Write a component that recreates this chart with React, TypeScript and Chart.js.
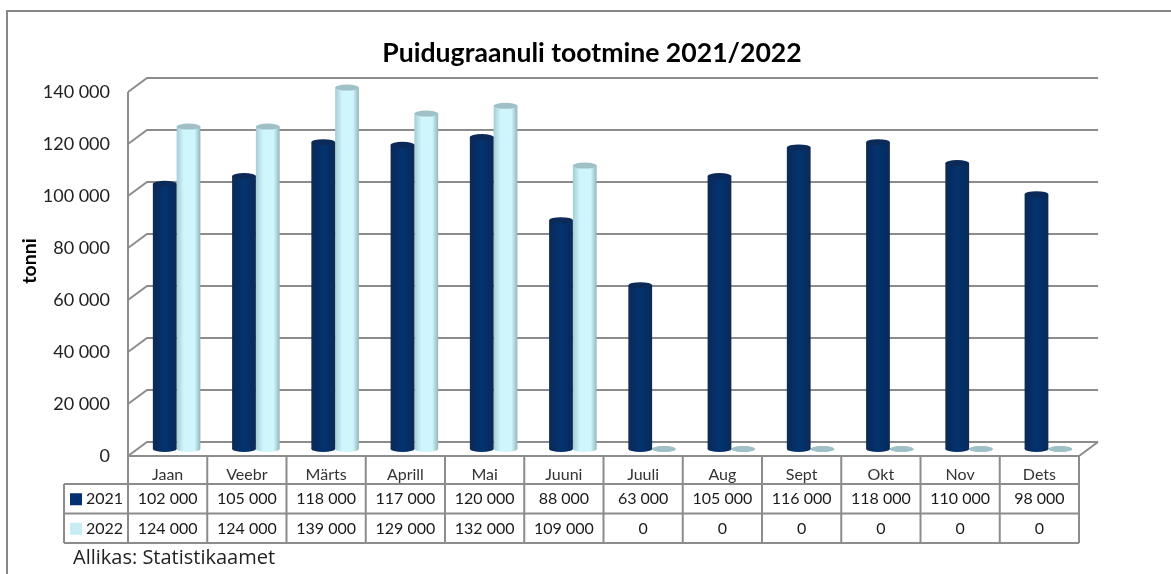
import React, { useEffect, useRef } from "react";
import { Chart, registerables } from "chart.js";

Chart.register(...registerables);

const categories = ["Jaan", "Veebr", "Märts", "Aprill", "Mai", "Juuni", "Juuli", "Aug", "Sept", "Okt", "Nov", "Dets"];
const values2021 = [102000, 105000, 118000, 117000, 120000, 88000, 63000, 105000, 116000, 118000, 110000, 98000];
const values2022 = [124000, 124000, 139000, 129000, 132000, 109000, 0, 0, 0, 0, 0, 0];
const seriesNames = ["2021", "2022"];
const titleText = "Puidugraanuli tootmine 2021/2022";
const axisTitle = "tonni";
const sourceText = "Allikas: Statistikaamet";

const FONT = "Lato, Carlito, sans-serif";
const LINE = "#8c8c8c";
const BACK = { dx: 19, dy: -14 };
const MID = { dx: 9, dy: -7 };
const ROWS = [484, 513.5, 543];
const TABLE_LEFT = 64;

const fmt = (v: number) => String(v).replace(/\B(?=(\d{3})+$)/g, " ");

function cylinderFill(ctx: CanvasRenderingContext2D, x0: number, x1: number, dark: boolean) {
  const g = ctx.createLinearGradient(x0, 0, x1, 0);
  if (dark) {
    g.addColorStop(0, "#0f2a52");
    g.addColorStop(0.2, "#062c62");
    g.addColorStop(0.5, "#03346f");
    g.addColorStop(0.8, "#052d63");
    g.addColorStop(1, "#0f2a52");
  } else {
    g.addColorStop(0, "#a6cdd4");
    g.addColorStop(0.3, "#cff6fc");
    g.addColorStop(0.75, "#cff6fc");
    g.addColorStop(1, "#93b5bb");
  }
  return g;
}

const scenePlugin = {
  id: "scene",
  afterLayout(chart: any) {
    const t = chart.titleBlock;
    if (t) {
      t.left += 52.5;
      t.right += 52.5;
    }
  },
  beforeDraw(chart: any) {
    const { ctx, width, height } = chart;
    ctx.save();
    ctx.fillStyle = "#ffffff";
    ctx.fillRect(0, 0, width, height);
    ctx.strokeStyle = "#878787";
    ctx.lineWidth = 2;
    ctx.beginPath();
    ctx.moveTo(7, height);
    ctx.lineTo(7, 11);
    ctx.lineTo(width, 11);
    ctx.stroke();
    ctx.restore();
  },
  beforeDatasetsDraw(chart: any) {
    const { ctx, chartArea: a, scales } = chart;
    const y = scales.y;
    ctx.save();
    ctx.strokeStyle = LINE;
    ctx.lineWidth = 2;
    y.ticks.forEach((t: any) => {
      const py = y.getPixelForValue(t.value);
      ctx.beginPath();
      ctx.moveTo(a.left, py);
      ctx.lineTo(a.left + BACK.dx, py + BACK.dy);
      ctx.lineTo(a.right + BACK.dx, py + BACK.dy);
      ctx.stroke();
    });
    ctx.beginPath();
    ctx.moveTo(a.left, a.top);
    ctx.lineTo(a.left, a.bottom);
    ctx.moveTo(a.right + BACK.dx, a.bottom + BACK.dy);
    ctx.lineTo(a.right, a.bottom);
    ctx.stroke();
    ctx.restore();
    ctx.save();
    ctx.translate(MID.dx, MID.dy);
  },
  afterDatasetDraw(chart: any, args: any) {
    const { ctx } = chart;
    const dark = args.index === 0;
    args.meta.data.forEach((bar: any) => {
      const w = bar.width;
      ctx.beginPath();
      ctx.ellipse(bar.x, bar.base, w / 2, 3, 0, 0, Math.PI * 2);
      ctx.fillStyle = bar.y >= bar.base ? "#9fc0c6" : cylinderFill(ctx, bar.x - w / 2, bar.x + w / 2, dark);
      ctx.fill();
      ctx.beginPath();
      ctx.ellipse(bar.x, bar.y, w / 2, 3, 0, 0, Math.PI * 2);
      ctx.fillStyle = dark ? "#0c2a58" : "#9fc0c6";
      ctx.fill();
    });
  },
  afterDatasetsDraw(chart: any) {
    chart.ctx.restore();
  },
  afterDraw(chart: any) {
    const { ctx, chartArea: a, scales } = chart;
    const x = scales.x;
    const step = x.getPixelForValue(1) - x.getPixelForValue(0);
    const rows = [values2021, values2022];
    ctx.save();
    ctx.strokeStyle = LINE;
    ctx.lineWidth = 2;
    ctx.beginPath();
    ctx.moveTo(a.left, a.bottom);
    ctx.lineTo(a.right, a.bottom);
    for (let i = 0; i <= categories.length; i++) {
      const px = a.left + i * step;
      ctx.moveTo(px, a.bottom);
      ctx.lineTo(px, ROWS[2]);
    }
    ROWS.forEach((ry) => {
      ctx.moveTo(TABLE_LEFT, ry);
      ctx.lineTo(a.right, ry);
    });
    ctx.moveTo(TABLE_LEFT, ROWS[0]);
    ctx.lineTo(TABLE_LEFT, ROWS[2]);
    ctx.stroke();

    ctx.textBaseline = "middle";
    ctx.font = `16px ${FONT}`;
    ctx.fillStyle = "#1a1a1a";
    rows.forEach((vals, r) => {
      const cy = (ROWS[r] + (r === 0 ? ROWS[1] : ROWS[2])) / 2 + 0.5;
      ctx.textAlign = "center";
      vals.forEach((v, i) => ctx.fillText(fmt(v), x.getPixelForValue(i), cy));
      ctx.textAlign = "left";
      ctx.fillText(seriesNames[r], 86, cy);
      ctx.fillStyle = r === 0 ? "#03306e" : "#c6edf3";
      ctx.fillRect(70, cy - 6, 12, 12);
      ctx.fillStyle = "#1a1a1a";
    });

    ctx.textAlign = "left";
    ctx.font = `20px "Open Sans", sans-serif`;
    ctx.fillStyle = "#222222";
    ctx.fillText(sourceText, 73, 558);

    ctx.translate(30, 261);
    ctx.rotate(-Math.PI / 2);
    ctx.textAlign = "center";
    ctx.font = `bold 19.5px ${FONT}`;
    ctx.fillStyle = "#000000";
    ctx.fillText(axisTitle, 0, 0);
    ctx.restore();
  },
};

export default function App() {
  const ref = useRef<HTMLCanvasElement>(null);
  useEffect(() => {
    const canvas = ref.current;
    if (!canvas) return;
    const makeDataset = (label: string, data: number[], dark: boolean) => ({
      label,
      data,
      clip: false as any,
      borderWidth: 0,
      categoryPercentage: 0.6,
      barPercentage: 1,
      backgroundColor: (c: any) => {
        const a = c.chart.chartArea;
        if (!a) return dark ? "#03306e" : "#c6edf3";
        const step = (a.right - a.left) / categories.length;
        const width = step * 0.3;
        const center = a.left + step * (c.dataIndex + 0.5) + (dark ? -width / 2 : width / 2);
        return cylinderFill(c.chart.ctx, center - width / 2, center + width / 2, dark);
      },
    });
    const chart = new Chart(canvas, {
      type: "bar",
      data: {
        labels: categories,
        datasets: [makeDataset(seriesNames[0], values2021, true), makeDataset(seriesNames[1], values2022, false)],
      },
      plugins: [scenePlugin],
      options: {
        responsive: false,
        animation: false,
        devicePixelRatio: 1,
        layout: { autoPadding: false, padding: { left: 0, top: 0, right: 92, bottom: 0 } },
        plugins: {
          legend: { display: false },
          tooltip: { enabled: false },
          title: {
            display: true,
            text: titleText,
            color: "#000000",
            font: { family: FONT, size: 26.6, weight: "bold", lineHeight: 1.2 },
            padding: { top: 37, bottom: 23.1 },
          },
        },
        scales: {
          x: {
            offset: true,
            afterFit: (s: any) => {
              s.height = 118;
            },
            border: { display: false },
            grid: { display: false },
            ticks: { color: "#333333", padding: 1, maxRotation: 0, autoSkip: false, font: { family: FONT, size: 16 } },
          },
          y: {
            min: 0,
            max: 140000,
            afterFit: (s: any) => {
              s.width = 128;
            },
            border: { display: false },
            grid: { display: false, drawTicks: false },
            ticks: {
              stepSize: 20000,
              color: "#222222",
              padding: 18,
              font: { family: FONT, size: 18 },
              callback: (v: any) => fmt(Number(v)),
            },
          },
        },
      },
    });
    return () => chart.destroy();
  }, []);
  return (
    <div style={{ position: "fixed", left: 0, top: 0, width: 1171, height: 574, overflow: "hidden", background: "#fff" }}>
      <canvas ref={ref} width={1171} height={574} style={{ display: "block" }} />
    </div>
  );
}
